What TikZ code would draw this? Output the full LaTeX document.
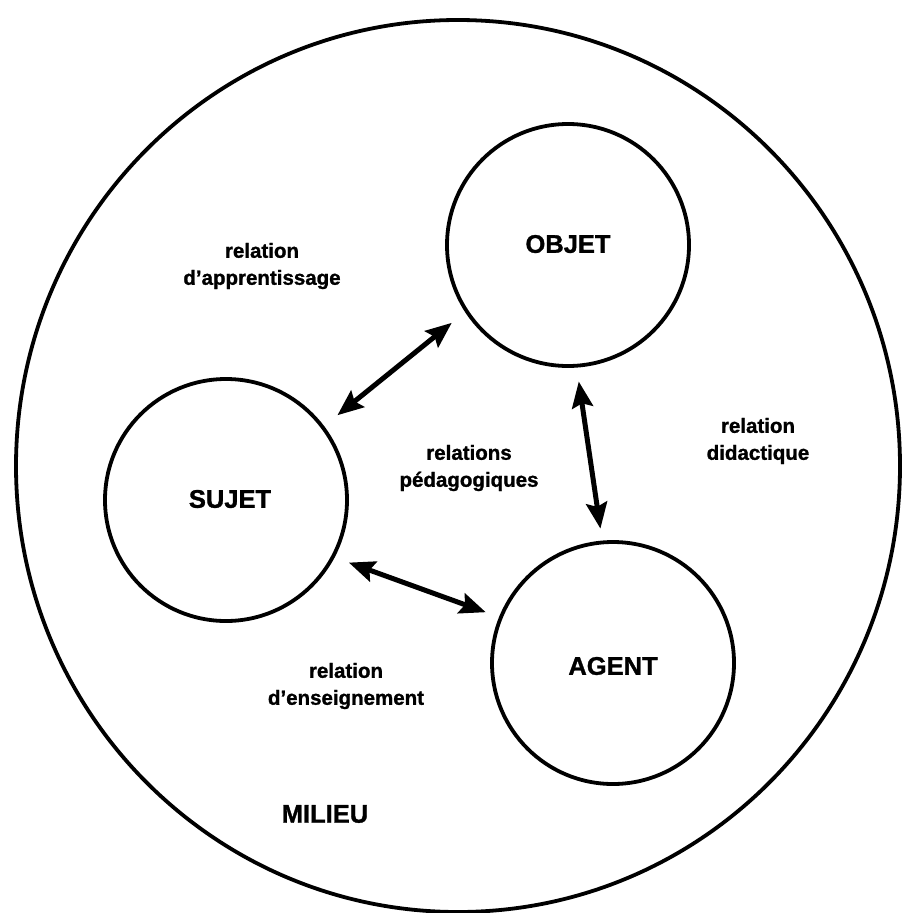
\documentclass[tikz,border=0pt]{standalone}
\usepackage{fontspec}
\setmainfont{Liberation Sans}[BoldFeatures={FakeBold=1.2}]
\usetikzlibrary{arrows.meta,shapes.geometric}
\tikzset{
  ring/.style={circle, draw, line width=3.8pt, minimum size=242pt, inner sep=0pt, outer sep=0pt},
  lbl/.style={align=center, inner sep=0pt, font=\bfseries\fontsize{20.5}{27}\selectfont},
  caplbl/.style={inner sep=0pt, font=\bfseries\fontsize{25.5}{30}\selectfont},
  rel/.style={line width=5pt, {Stealth[length=26pt,width=21pt,inset=4pt]}-{Stealth[length=26pt,width=21pt,inset=4pt]}}
}
\begin{document}
\begin{tikzpicture}[x=1pt,y=-1pt]
\useasboundingbox (0,0) rectangle (902,913);
% milieu
\node[ellipse, draw, line width=3.8pt, minimum width=884pt, minimum height=892pt, inner sep=0pt] (milieu) at (458,466) {};
% main circles
\node[ring] (objet) at (568,245) {};
\node[ring] (sujet) at (226,500) {};
\node[ring] (agent) at (613,663) {};
% circle labels
\node[caplbl] (tobjet) at (568,244) {OBJET};
\node[caplbl] (tsujet) at (230,499) {SUJET};
\node[caplbl] (tagent) at (613,666) {AGENT};
\node[caplbl] (tmilieu) at (325,814) {MILIEU};
% relation labels
\node[lbl] (rapp) at (262,266) {relation\\d’apprentissage};
\node[lbl] (rdid) at (758,441) {relation\\didactique};
\node[lbl] (rped) at (469,468) {relations\\pédagogiques};
\node[lbl] (rens) at (346,686) {relation\\d’enseignement};
% arrows
\draw[rel, shorten <=19pt, shorten >=19pt] (sujet.37.4) -- (objet.213.1);
\draw[rel, shorten <=16pt, shorten >=14pt] (objet.274.2) -- (agent.95.5);
\draw[rel, shorten <=17pt, shorten >=16pt] (sujet.332.9) -- (agent.158.1);
\end{tikzpicture}
\end{document}
